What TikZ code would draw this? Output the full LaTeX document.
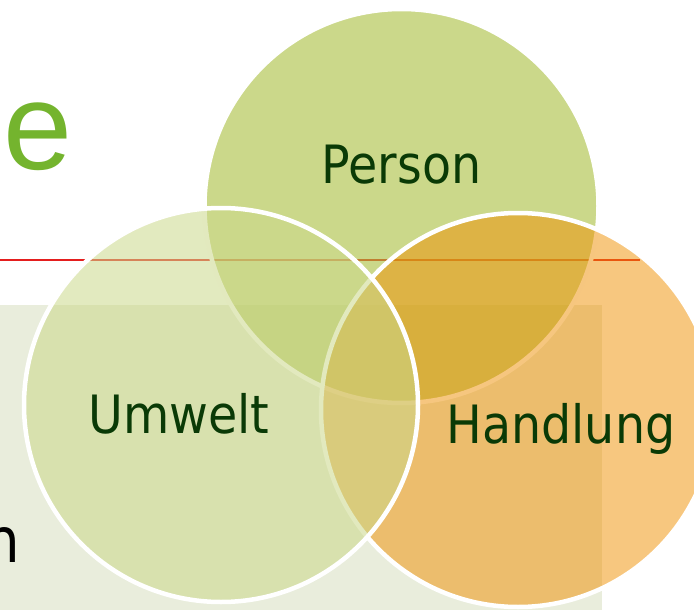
\documentclass[tikz,border=0pt]{standalone}
\usepackage{fontspec}
\setmainfont{DejaVu Sans}
\newfontfamily\labelfont{DejaVu Sans Condensed}
\newfontfamily\titlefont{Liberation Sans}
\definecolor{panelbg}{HTML}{E9EDDC}
\definecolor{rulered}{HTML}{E41E1E}
\definecolor{titlegreen}{HTML}{74B42E}
\definecolor{labelgreen}{HTML}{0A3A06}
\definecolor{personfill}{HTML}{A8BE3C}
\definecolor{umweltfill}{HTML}{CBD88A}
\definecolor{handlungfill}{HTML}{EF8F00}
\tikzset{
  venn/.style={circle, draw=white, line width=4.5pt, inner sep=0pt, minimum size=394pt},
  venntext/.style={anchor=base, inner sep=0pt, text=labelgreen, font=\labelfont\fontsize{52.8}{60}\selectfont},
}
\begin{document}
\begin{tikzpicture}[x=1pt, y=-1pt]
  \useasboundingbox (0,0) rectangle (694,610);
  % shaded panel and rule behind the circles
  \fill[panelbg] (0,305) rectangle (602,610);
  \coordinate (ruleL) at (0,260);
  \coordinate (ruleR) at (640,260);
  \draw[rulered, line width=2pt] (ruleL) -- (ruleR);
  % cut-off title and body text
  \node (title) [anchor=base west, inner sep=0pt, text=titlegreen, font=\titlefont\fontsize{124}{130}\selectfont] at (3.5,169) {e};
  \node (bodytext) [anchor=base east, inner sep=0pt, text=black, font=\labelfont\fontsize{62.5}{70}\selectfont] at (20.3,562) {n};
  % three overlapping circles
  \node (person) [venn, fill=personfill, fill opacity=0.6] at (401.5,206) {};
  \node (handlung) [venn, fill=handlungfill, fill opacity=0.5] at (518,410) {};
  \node (umwelt) [venn, fill=umweltfill, fill opacity=0.55] at (221,405) {};
  % circle labels
  \node (personlabel) [venntext] at (401.5,183) {Person};
  \node (umweltlabel) [venntext] at (179,433) {Umwelt};
  \node (handlunglabel) [venntext] at (561,443) {Handlung};
\end{tikzpicture}
\end{document}
